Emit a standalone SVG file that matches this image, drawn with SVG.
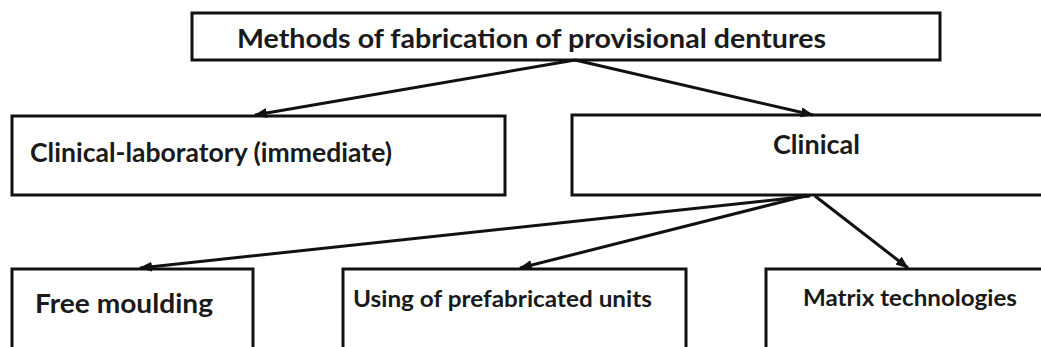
<svg xmlns="http://www.w3.org/2000/svg" width="1041" height="347" viewBox="0 0 1041 347">
<style>
.box{fill:#fff;stroke:#111;stroke-width:3}
.t{font-family:Lato,"Liberation Sans",sans-serif;font-weight:bold;fill:#1a1a1a}
.c{stroke:#111;stroke-width:3;fill:none;marker-end:url(#ah)}
</style>
<defs>
<marker id="ah" markerUnits="userSpaceOnUse" markerWidth="14" markerHeight="12" refX="12" refY="5" orient="auto">
<path d="M0,0 L13,5 L0,10 Z" fill="#111"/>
</marker>
</defs>
<rect width="1041" height="347" fill="#fff"/>
<g id="n-top"><rect class="box" x="192" y="13" width="748" height="47"/><text class="t" x="237" y="48" font-size="26.5" textLength="589" lengthAdjust="spacingAndGlyphs">Methods of fabrication of provisional dentures</text></g>
<g id="n-cl"><rect class="box" x="12" y="116" width="493" height="79"/><text class="t" x="30" y="162" font-size="26.5" textLength="362" lengthAdjust="spacingAndGlyphs">Clinical-laboratory (immediate)</text></g>
<g id="n-clin"><rect class="box" x="572" y="115" width="480" height="80"/><text class="t" x="773" y="154" font-size="26.5" textLength="87" lengthAdjust="spacingAndGlyphs">Clinical</text></g>
<g id="n-free"><rect class="box" x="12" y="269" width="241" height="90"/><text class="t" x="35" y="313" font-size="26" textLength="178" lengthAdjust="spacingAndGlyphs">Free moulding</text></g>
<g id="n-using"><rect class="box" x="343" y="269" width="343" height="90"/><text class="t" x="353" y="307" font-size="22" textLength="299" lengthAdjust="spacingAndGlyphs">Using of prefabricated units</text></g>
<g id="n-matrix"><rect class="box" x="766" y="269" width="290" height="90"/><text class="t" x="803" y="306" font-size="23" textLength="214" lengthAdjust="spacingAndGlyphs">Matrix technologies</text></g>
<g id="connectors">
<line class="c" x1="575" y1="60" x2="255" y2="115"/>
<line class="c" x1="575" y1="60" x2="813" y2="115"/>
<line class="c" x1="810" y1="196" x2="140" y2="268"/>
<line class="c" x1="805" y1="196" x2="520" y2="268"/>
<line class="c" x1="815" y1="196" x2="908" y2="268"/>
</g>
</svg>
